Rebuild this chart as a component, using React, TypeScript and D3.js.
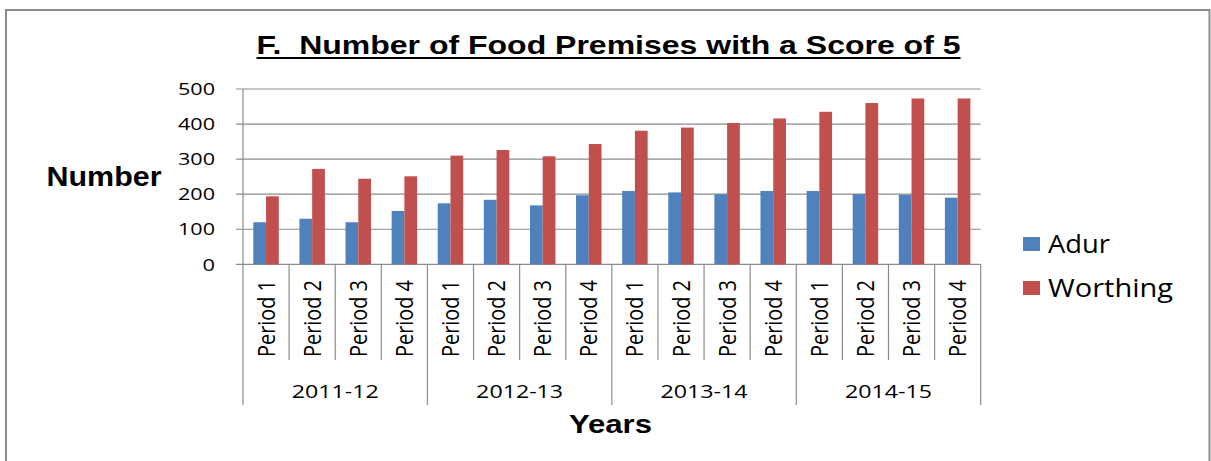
import React from "react";
import * as d3 from "d3";

const years = ["2011-12", "2012-13", "2013-14", "2014-15"];
const periods = ["Period 1", "Period 2", "Period 3", "Period 4"];
const seriesNames = ["Adur", "Worthing"];
const adur = [120, 130, 120, 152, 174, 184, 168, 197, 209, 205, 200, 209, 209, 200, 198, 190];
const worthing = [194, 272, 244, 251, 310, 326, 308, 343, 381, 390, 403, 416, 435, 460, 473, 473];
const yTicks = [0, 100, 200, 300, 400, 500];
const colors = ["#4F81BD", "#C0504D"];
const titleText = "F.\u00A0 Number of Food Premises with a Score of 5";

const W = 1211;
const H = 461;

export default function App() {
  const categories = years.flatMap((y) => periods.map((p) => `${y}|${p}`));
  const x = d3.scaleBand<string>().domain(categories).range([243, 980.7]).padding(0);
  const band = x.bandwidth();
  const xs = d3.scaleBand<string>().domain(seriesNames).range([0, band]).paddingInner(0).paddingOuter(0.81);
  const y = d3.scaleLinear().domain([0, 500]).range([264.3, 89]);
  const values = [adur, worthing];
  const grid = "#8C8C8C";
  const sans = "'Liberation Sans', Arial, sans-serif";
  const cal = "'Open Sans', 'Liberation Sans', sans-serif";
  const yearScale = d3.scaleBand<string>().domain(years).range([243, 980.7]);
  const axisY = y(0);

  return (
    <svg width={W} height={H} style={{ position: "absolute", left: 0, top: 0, background: "#fff" }}>
      <rect x={6} y={10} width={1203.5} height={480} fill="#fff" stroke="#8A8A8A" strokeWidth={2} />
      {/* Title */}
      <text x={256.5} y={53.5} fontFamily={sans} fontWeight="bold" fontSize={25} textLength={704} lengthAdjust="spacingAndGlyphs" fill="#000">
        {titleText}
      </text>
      <line x1={256.5} x2={960.5} y1={58} y2={58} stroke="#000" strokeWidth={2.2} />
      {/* gridlines and y ticks */}
      {yTicks.map((t) => (
        <g key={t}>
          <line x1={236} x2={980.7} y1={y(t)} y2={y(t)} stroke={grid} strokeWidth={1.2} />
          <text x={215} y={y(t) + 6.2} textAnchor="end" fontFamily={cal} fontSize={17} textLength={t === 0 ? 12.5 : 37} lengthAdjust="spacingAndGlyphs" fill="#000">
            {t}
          </text>
        </g>
      ))}
      <line x1={243} x2={243} y1={89} y2={264.3} stroke={grid} strokeWidth={1.2} />
      {/* Number label */}
      <text x={46.5} y={185.7} fontFamily={sans} fontWeight="bold" fontSize={27.5} textLength={115} lengthAdjust="spacingAndGlyphs" fill="#000">
        Number
      </text>
      {/* bars */}
      {values.map((vals, si) =>
        categories.map((c, i) => (
          <rect
            key={`${si}-${c}`}
            x={(x(c) ?? 0) + (xs(seriesNames[si]) ?? 0)}
            y={y(vals[i])}
            width={xs.bandwidth()}
            height={axisY - y(vals[i])}
            fill={colors[si]}
          />
        ))
      )}
      {/* category ticks */}
      {categories.map((c, i) => {
        const xx = x(c) ?? 0;
        const isGroup = i % 4 === 0;
        return <line key={`t${c}`} x1={xx} x2={xx} y1={axisY} y2={isGroup ? 405 : 360} stroke={grid} strokeWidth={1.2} />;
      })}
      <line x1={980.7} x2={980.7} y1={axisY} y2={405} stroke={grid} strokeWidth={1.2} />
      {/* period labels */}
      {categories.map((c) => {
        const cx = (x(c) ?? 0) + band / 2;
        const p = c.split("|")[1];
        return (
          <text
            key={`l${c}`}
            transform={`translate(${cx + 8.5},357) scale(1.25,1) rotate(-90)`}
            fontFamily={cal}
            fontSize={19}
            textLength={77}
            lengthAdjust="spacingAndGlyphs"
            fill="#000"
          >
            {p}
          </text>
        );
      })}
      {/* year labels */}
      {years.map((yr) => (
        <text key={yr} x={(yearScale(yr) ?? 0) + yearScale.bandwidth() / 2} y={397.5} textAnchor="middle" fontFamily={cal} fontSize={19} textLength={87} lengthAdjust="spacingAndGlyphs" fill="#000">
          {yr}
        </text>
      ))}
      {/* Years label */}
      <text x={569} y={433.3} fontFamily={sans} fontWeight="bold" fontSize={25.5} textLength={83} lengthAdjust="spacingAndGlyphs" fill="#000">
        Years
      </text>
      {/* legend */}
      {seriesNames.map((s, i) => (
        <g key={s}>
          <rect x={1023} y={237 + i * 44} width={17} height={14} fill={colors[i]} />
          <text x={1048} y={253 + i * 44} fontFamily={cal} fontSize={25} textLength={i === 0 ? 62 : 125} lengthAdjust="spacingAndGlyphs" fill="#000">
            {s}
          </text>
        </g>
      ))}
    </svg>
  );
}
